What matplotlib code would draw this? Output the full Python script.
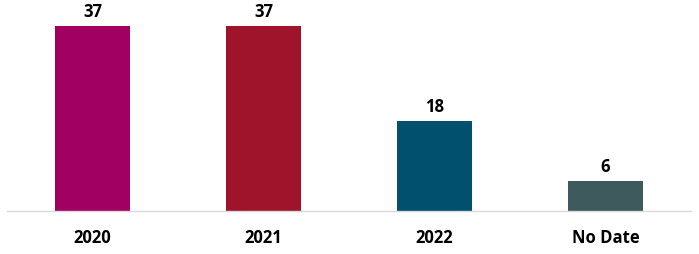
import matplotlib.pyplot as plt

categories = ['2020', '2021', '2022', 'No Date']
counts = [37, 37, 18, 6]
colors = ['#A10062', '#A0142B', '#00506E', '#3F5A5C']

plt.rcParams['font.family'] = ['Open Sans', 'DejaVu Sans']

fig = plt.figure(figsize=(6.99, 2.55), dpi=100)
ax = fig.add_axes([7 / 699, 43 / 255, 684 / 699, 212 / 255])

x = range(len(categories))
bars = ax.bar(x, counts, width=0.444, color=colors)

for b, v in zip(bars, counts):
    ax.text(b.get_x() + b.get_width() / 2, v + 1.2, str(v),
            ha='center', va='bottom', fontsize=12, fontweight='bold', color='#000000')

ax.set_xlim(-0.5, 3.5)
ax.set_ylim(0, 42.4)
ax.set_xticks(list(x))
ax.set_xticklabels(categories, fontsize=12, fontweight='bold')
ax.tick_params(axis='x', length=0, pad=12)
ax.set_yticks([])

for s in ['top', 'right', 'left']:
    ax.spines[s].set_visible(False)
ax.spines['bottom'].set_color('#D9D9D9')
ax.spines['bottom'].set_linewidth(1)

plt.savefig('out.png', dpi=100)
